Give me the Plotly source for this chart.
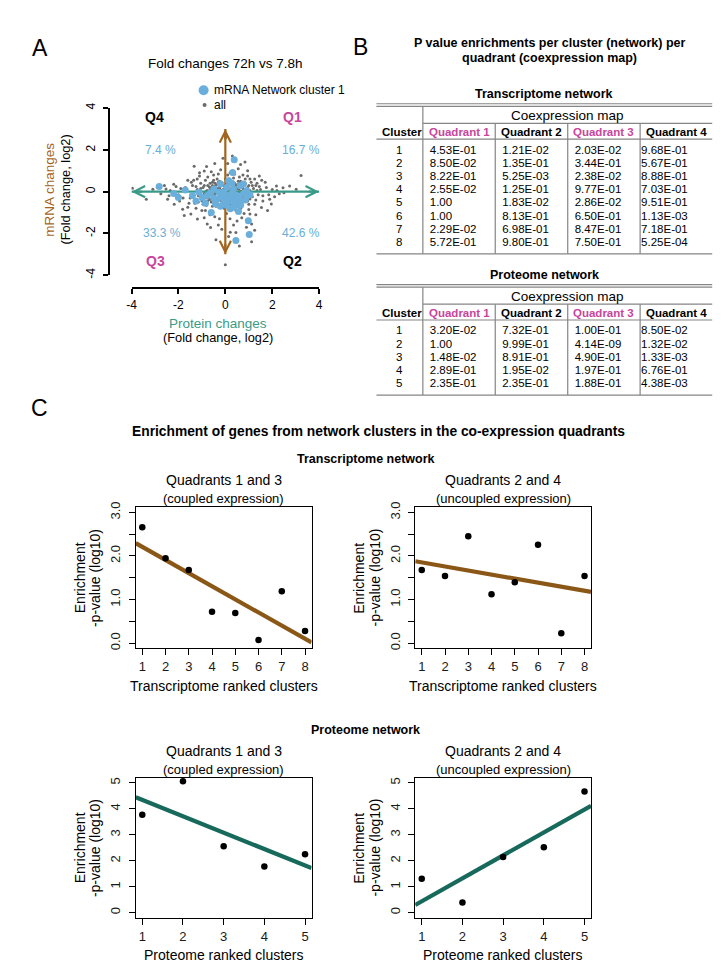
import plotly.graph_objects as go
import numpy as np

W, H = 725, 969
FONT = "Liberation Sans, Arial, Helvetica, sans-serif"
BROWN_A = '#a3651e'
TEAL_A = '#3a9a88'
BLUE = '#6aaedb'
GREY = '#6a6a6a'
MAGENTA = '#c8459c'
PCT_BLUE = '#6aaed6'
BROWN_C = '#8a5716'
TEAL_C = '#17695b'
LINE_GREY = '#858585'

# ---------------- Panel A data (log2 fold changes) ----------------
all_xy = [
    (-3.96, 0.16), (-3.37, -0.36), (-3.09, 0.11), (-2.53, 0.13), (-2.46, -0.36), (-2.18, -0.60),
    (-1.82, -0.84), (-1.75, -1.14), (-1.47, -1.07), (-1.33, 1.22), (-1.19, -1.31), (-0.90, 0.99),
    (-0.77, -1.55), (-0.63, -1.71), (0.0, -3.5), (0.02, 2.6), (0.14, -2.15), (0.21, -1.94),
    (0.84, 1.42), (1.05, -1.07), (1.12, -1.55), (1.12, -2.40), (1.25, -1.85), (1.54, -0.76),
    (1.89, -0.36), (1.96, -0.59), (2.18, 0.27), (2.46, 0.19), (2.74, 0.27), (3.02, 0.11),
    (3.23, 0.77), (2.3, -0.1), (1.7, 0.45), (1.45, 0.75), (-0.45, 1.35), (0.55, 1.1),
    (-2.75, -0.1), (-2.9, 0.2), (-2.2, 0.35), (-1.6, 0.55), (-0.25, -1.3), (0.35, -1.6),
    (0.7, -1.25), (0.95, 1.0), (-0.6, 0.95), (-1.1, 0.75), (1.3, 0.3), (1.6, -0.2),
    (2.0, 0.1), (2.5, -0.05), (-2.0, -0.15), (-2.35, 0.05), (-1.9, 0.15), (-0.15, -1.8),
    (0.45, -1.95), (-0.4, -2.3), (0.6, -2.6), (1.05, 0.6), (-1.3, -0.55), (-1.5, -0.3),
    (-1.7, 0.2), (-1.4, 0.3), (1.8, -0.9), (0.9, -1.7), (-0.9, -1.25), (0.1, 1.35),
    (0.3, 1.7), (-0.2, 1.05), (0.4, 0.85), (-0.75, 0.7),
    (-1.2, 0.1), (-1.15, -0.2), (-1.05, 0.4), (-1.0, -0.45), (-0.95, 0.2), (-0.9, -0.1),
    (-0.85, 0.55), (-0.8, -0.65), (-0.75, 0.3), (-0.7, -0.3), (-0.65, 0.1), (-0.6, -0.5),
    (-0.55, 0.45), (-0.5, -0.15), (-0.45, 0.25), (-0.4, -0.7), (-0.35, 0.6), (-0.3, -0.4),
    (-0.25, 0.15), (-0.2, -0.2), (-0.15, 0.45), (-0.1, -0.55), (-0.05, 0.3), (0.0, -0.1),
    (0.05, 0.55), (0.1, -0.35), (0.15, 0.2), (0.2, -0.6), (0.25, 0.4), (0.3, -0.15),
    (0.35, 0.65), (0.4, -0.45), (0.45, 0.1), (0.5, -0.7), (0.55, 0.35), (0.6, -0.25),
    (0.65, 0.5), (0.7, -0.55), (0.75, 0.15), (0.8, -0.1), (0.85, 0.4), (0.9, -0.35),
    (0.95, 0.2), (1.0, -0.6), (1.05, 0.05), (1.1, 0.45), (1.15, -0.25), (1.2, 0.15),
    (1.3, -0.4), (1.35, 0.05), (1.4, -0.15), (1.45, 0.25), (-1.25, -0.8), (-1.1, 0.9),
    (-0.85, -0.9), (-0.55, -0.95), (-0.3, 0.85), (-0.05, -0.8), (0.2, 0.9), (0.45, -0.9),
    (0.75, 0.8), (1.0, -0.85), (1.25, 0.6), (-1.35, 0.55),
    (-0.78, 0.05), (-0.72, -0.12), (-0.68, 0.22), (-0.62, -0.05), (-0.58, 0.15), (-0.52, -0.25),
    (-0.48, 0.05), (-0.42, -0.1), (-0.38, 0.32), (-0.33, 0.0), (-0.28, -0.25), (-0.24, 0.2),
    (-0.18, 0.05), (-0.14, -0.15), (-0.1, 0.1), (-0.06, -0.3), (-0.02, 0.18), (0.03, -0.05),
    (0.07, 0.28), (0.12, -0.18), (0.16, 0.05), (0.22, -0.3), (0.26, 0.15), (0.31, -0.05),
    (0.36, 0.25), (0.41, -0.2), (0.46, 0.32), (0.52, -0.08), (0.57, 0.12), (0.62, -0.35),
    (0.67, 0.02), (0.72, 0.25), (0.78, -0.18), (-0.66, -0.38), (-0.44, 0.4), (-0.2, -0.42),
    (0.08, 0.42), (0.34, -0.38), (0.6, 0.38), (-0.9, 0.3), (-0.98, -0.2), (0.88, 0.1),
    (0.96, -0.15), (-0.55, 0.3), (0.5, 0.2), (0.25, -0.5), (-0.3, 0.45), (0.0, 0.6),
    (-1.8, -0.3), (-1.65, 0.1), (-1.55, -0.55), (-1.45, 0.45), (-1.35, -0.15), (-1.25, 0.25),
    (-1.15, -0.5), (-1.05, 0.15), (-0.95, -0.6), (-0.85, 0.0), (-0.75, -0.45), (-0.65, 0.4),
    (-0.55, -0.7), (-0.45, 0.05), (-0.35, -0.55), (-0.25, 0.5), (-0.15, -0.65), (-0.05, 0.1),
    (0.05, -0.5), (0.15, 0.6), (0.25, -0.75), (0.35, 0.05), (0.45, -0.6), (0.55, 0.5),
    (0.65, -0.8), (0.75, -0.3), (0.85, 0.6), (0.95, -0.45), (1.05, -0.35), (1.15, 0.3),
    (1.25, -0.6), (1.35, 0.4), (1.5, 0.1), (1.6, -0.45), (1.75, 0.2), (1.85, -0.15),
    (2.1, -0.25), (2.2, 0.05), (-2.1, 0.25), (-2.4, -0.2), (-2.6, 0.3), (-1.95, -0.45),
    (-0.8, 1.2), (0.65, 1.3), (-0.1, 1.6), (0.2, -1.3), (-0.45, -1.2), (0.8, -1.05),
    (-1.0, -0.9), (1.3, -1.1), (0.05, -1.05), (-0.65, -1.1), (0.5, -1.4), (-0.3, -1.6),
    (1.55, 0.55), (-1.6, -0.75), (0.95, 0.75), (-0.5, 0.8), (0.1, 0.8), (0.6, 0.7),
    (-1.2, 0.6), (-0.6, 0.2), (-0.4, -0.35), (-0.2, 0.3), (0.0, -0.25), (0.2, 0.1),
    (0.4, 0.4), (0.6, 0.0), (0.8, 0.3), (-0.8, -0.3), (-0.35, 0.15), (0.15, -0.1),
    (0.45, -0.15), (0.7, -0.1), (-0.15, -0.05), (0.05, 0.35), (0.3, 0.3), (-0.5, 0.55),
    (0.55, -0.5), (-0.7, -0.15), (1.0, 0.3),
]
cluster1_xy = [
    # Q4
    (-2.82, 0.25), (-1.71, 0.08), (-0.49, 0.13), (-0.21, 0.36),
    # Q1
    (0.38, 1.52), (0.31, 0.92), (0.07, 0.21), (0.14, 0.52), (0.35, 0.13), (0.63, 0.28),
    (0.77, 0.36), (0.91, 0.05), (0.28, 0.4),
    # Q2
    (0.56, -0.95), (0.98, -1.39), (1.02, -2.05), (0.45, -2.34), (0.21, -0.82), (0.07, -0.66),
    (0.21, -0.35), (0.42, -0.58), (0.49, -0.19), (0.63, -0.43), (0.77, -0.11), (0.1, -0.2),
    (0.4, -0.35), (1.05, -0.15), (0.3, -0.05), (0.55, -0.3), (0.15, -0.45), (0.85, -0.4),
    (0.35, -0.75), (0.65, -0.65), (0.05, -0.3), (0.25, -0.15), (0.9, -0.25),
    # Q3
    (-2.2, -0.09), (-2.0, -0.28), (-0.6, -1.0), (-1.4, -0.19), (-1.12, -0.03), (-0.98, -0.28),
    (-0.77, -0.19), (-0.63, -0.05), (-0.42, -0.58), (-0.35, -0.35), (-0.28, -0.03), (-0.07, -0.03),
    (-0.07, -0.51), (-0.21, -0.7), (-1.25, -0.45), (-0.5, -0.3), (-0.15, -0.25), (-0.85, -0.55),
]
all_x = [p[0] for p in all_xy]
all_y = [p[1] for p in all_xy]
c1_x = [p[0] for p in cluster1_xy]
c1_y = [p[1] for p in cluster1_xy]
quad_names = ['Q1', 'Q2', 'Q3', 'Q4']
quad_pct = ['16.7 %', '42.6 %', '33.3 %', '7.4 %']

# ---------------- Panel B data ----------------
quad_headers = ['Quadrant 1', 'Quadrant 2', 'Quadrant 3', 'Quadrant 4']
trans_clusters = ['1', '2', '3', '4', '5', '6', '7', '8']
trans_q1 = ['4.53E-01', '8.50E-02', '8.22E-01', '2.55E-02', '1.00', '1.00', '2.29E-02', '5.72E-01']
trans_q2 = ['1.21E-02', '1.35E-01', '5.25E-03', '1.25E-01', '1.83E-02', '8.13E-01', '6.98E-01', '9.80E-01']
trans_q3 = ['2.03E-02', '3.44E-01', '2.38E-02', '9.77E-01', '2.86E-02', '6.50E-01', '8.47E-01', '7.50E-01']
trans_q4 = ['9.68E-01', '5.67E-01', '8.88E-01', '7.03E-01', '9.51E-01', '1.13E-03', '7.18E-01', '5.25E-04']
prot_clusters = ['1', '2', '3', '4', '5']
prot_q1 = ['3.20E-02', '1.00', '1.48E-02', '2.89E-01', '2.35E-01']
prot_q2 = ['7.32E-01', '9.99E-01', '8.91E-01', '1.95E-02', '2.35E-01']
prot_q3 = ['1.00E-01', '4.14E-09', '4.90E-01', '1.97E-01', '1.88E-01']
prot_q4 = ['8.50E-02', '1.32E-02', '1.33E-03', '6.76E-01', '4.38E-03']

# ---------------- Panel C data (-log10 p) ----------------
trans_rank = [1, 2, 3, 4, 5, 6, 7, 8]
trans_coupled = [2.66, 1.95, 1.68, 0.72, 0.69, 0.07, 1.19, 0.28]
trans_uncoupled = [1.68, 1.54, 2.45, 1.12, 1.40, 2.26, 0.23, 1.54]
prot_rank = [1, 2, 3, 4, 5]
prot_coupled = [3.77, 5.06, 2.56, 1.78, 2.25]
prot_uncoupled = [1.31, 0.39, 2.15, 2.52, 4.67]


def dx(a, b):
    return [a / W, b / W]


def dy(top, bottom):
    return [1 - bottom / H, 1 - top / H]


fig = go.Figure()
annots = []
shapes = []


def txt(x, y, s, size=13, color='black', bold=False, xanchor='center', angle=0):
    annots.append(dict(x=x, y=y, xref='x6', yref='y6', text=('<b>%s</b>' % s) if bold else s,
                       showarrow=False, xanchor=xanchor, yanchor='middle', textangle=angle,
                       font=dict(family=FONT, size=size, color=color)))


# ---------------- Panel A ----------------
fig.add_trace(go.Scatter(x=all_x, y=all_y, mode='markers', xaxis='x', yaxis='y',
                         marker=dict(size=3, color=GREY), hoverinfo='skip', showlegend=False))
arrow_v = 3.0
fig.add_trace(go.Scatter(x=[0, 0], y=[-arrow_v, arrow_v], mode='lines', xaxis='x', yaxis='y',
                         line=dict(color=BROWN_A, width=2.2), hoverinfo='skip', showlegend=False))
fig.add_trace(go.Scatter(x=[-4, 4], y=[0, 0], mode='lines', xaxis='x', yaxis='y',
                         line=dict(color=TEAL_A, width=2.2), hoverinfo='skip', showlegend=False))
fig.add_trace(go.Scatter(x=c1_x, y=c1_y, mode='markers', xaxis='x', yaxis='y',
                         marker=dict(size=7, color=BLUE), hoverinfo='skip', showlegend=False))
for (hx, hy, ax, ay, col) in [(0, arrow_v, 0, 12, BROWN_A), (0, -arrow_v, 0, -12, BROWN_A),
                              (-4, 0, 12, 0, TEAL_A), (4, 0, -12, 0, TEAL_A)]:
    annots.append(dict(x=hx, y=hy, xref='x', yref='y', ax=ax, ay=ay, text='', showarrow=True,
                       arrowhead=5, arrowsize=1.0, arrowwidth=2.2, arrowcolor=col))

txt(27, 34, 'A', size=23)
txt(352, 33, 'B', size=23)
txt(27, 398, 'C', size=23)
txt(215, 50, 'Fold changes 72h vs 7.8h', size=13.5)
# legend
fig.add_trace(go.Scatter(x=[193], y=[77], mode='markers', xaxis='x6', yaxis='y6',
                         marker=dict(size=10, color=BLUE), hoverinfo='skip', showlegend=False))
fig.add_trace(go.Scatter(x=[194], y=[92], mode='markers', xaxis='x6', yaxis='y6',
                         marker=dict(size=4, color=GREY), hoverinfo='skip', showlegend=False))
txt(202, 77, 'mRNA Network cluster 1', size=12, xanchor='left')
txt(202, 92, 'all', size=12, xanchor='left')
# quadrant labels
q_pos = {'Q1': (283, 104, MAGENTA), 'Q2': (283, 250, 'black'), 'Q3': (144, 250, MAGENTA), 'Q4': (143, 104, 'black')}
p_pos = [(292, 137), (292, 221), (151, 221), (149, 137)]
for i, q in enumerate(quad_names):
    qx, qy, qc = q_pos[q]
    txt(qx, qy, q, size=14, color=qc, bold=True)
    txt(p_pos[i][0], p_pos[i][1], quad_pct[i], size=12, color=PCT_BLUE)
txt(37, 178, 'mRNA changes', size=13.5, color=BROWN_A, angle=-90)
txt(53, 177, '(Fold change, log2)', size=12.8, angle=-90)
txt(208, 313, 'Protein changes', size=13.5, color=TEAL_A)
txt(208, 327, '(Fold change, log2)', size=12.8)

# ---------------- Panel B tables ----------------
txt(544, 29, 'P value enrichments per cluster (network) per', size=12.5, bold=True)
txt(543, 44, 'quadrant (coexpression map)', size=12.5, bold=True)

col_bounds = [368, 415, 488.3, 561.7, 635, 708]
val_x = [424, 497.3, 570.7, 638]
ROW = 13.34


def add_table(title, top, clusters, cols):
    n = len(clusters)
    row1 = top + 44.85
    ys = [row1 + i * ROW for i in range(n)]
    bottom = ys[-1] + 10.8
    txt(538, top - 12, title, size=12.5, bold=True)
    for yy in (top - 2.6, top):
        shapes.append(dict(type='line', xref='x6', yref='y6', x0=col_bounds[0], x1=col_bounds[-1],
                           y0=yy, y1=yy, line=dict(color=LINE_GREY, width=1.2)))
    txt((col_bounds[1] + col_bounds[-1]) / 2, top + 9.2, 'Coexpression map', size=13.5)
    shapes.append(dict(type='line', xref='x6', yref='y6', x0=col_bounds[1], x1=col_bounds[-1],
                       y0=top + 17.2, y1=top + 17.2, line=dict(color=LINE_GREY, width=1.2)))
    txt(393.5, top + 25.8, 'Cluster', size=11.5, bold=True)
    for j, hname in enumerate(quad_headers):
        cx = (col_bounds[j + 1] + col_bounds[j + 2]) / 2
        txt(cx, top + 25.8, hname, size=11.5, bold=True, color=MAGENTA if j in (0, 2) else 'black')
    shapes.append(dict(type='line', xref='x6', yref='y6', x0=col_bounds[0], x1=col_bounds[-1],
                       y0=top + 33.2, y1=top + 33.2, line=dict(color=LINE_GREY, width=1.2)))
    shapes.append(dict(type='line', xref='x6', yref='y6', x0=col_bounds[0], x1=col_bounds[-1],
                       y0=bottom, y1=bottom, line=dict(color=LINE_GREY, width=1.2)))
    shapes.append(dict(type='line', xref='x6', yref='y6', x0=col_bounds[1], x1=col_bounds[1],
                       y0=top, y1=bottom, line=dict(color=LINE_GREY, width=1.2)))
    for xb in col_bounds[2:-1]:
        shapes.append(dict(type='line', xref='x6', yref='y6', x0=xb, x1=xb,
                           y0=top + 17.2, y1=bottom, line=dict(color=LINE_GREY, width=1.2)))
    fig.add_trace(go.Scatter(x=[391] * n, y=ys, text=clusters, mode='text', textposition='middle center',
                             xaxis='x6', yaxis='y6', textfont=dict(family=FONT, size=11.5, color='black'),
                             hoverinfo='skip', showlegend=False))
    for j, col in enumerate(cols):
        fig.add_trace(go.Scatter(x=[val_x[j] - 2] * n, y=ys, text=col, mode='text', textposition='middle right',
                                 xaxis='x6', yaxis='y6', textfont=dict(family=FONT, size=11.5, color='black'),
                                 hoverinfo='skip', showlegend=False))


add_table('Transcriptome network', 93.3, trans_clusters, [trans_q1, trans_q2, trans_q3, trans_q4])
add_table('Proteome network', 276, prot_clusters, [prot_q1, prot_q2, prot_q3, prot_q4])

# ---------------- Panel C ----------------
txt(370, 422, 'Enrichment of genes from network clusters in the co-expression quadrants', size=13.8, bold=True)
txt(357, 450, 'Transcriptome network', size=12.5, bold=True)
txt(357, 723, 'Proteome network', size=12.5, bold=True)

LBOX = (124.3, 302.3)
RBOX = (407.3, 585.3)
TOPROW = (498.3, 641)
BOTROW = (771.7, 913.3)

panels = [
    ('x2', 'y2', LBOX, TOPROW, trans_rank, trans_coupled, BROWN_C, [0.72, 8.28], [-0.12, 3.12]),
    ('x3', 'y3', RBOX, TOPROW, trans_rank, trans_uncoupled, BROWN_C, [0.72, 8.28], [-0.12, 3.12]),
    ('x4', 'y4', LBOX, BOTROW, prot_rank, prot_coupled, TEAL_C, [0.84, 5.16], [-0.2, 5.2]),
    ('x5', 'y5', RBOX, BOTROW, prot_rank, prot_uncoupled, TEAL_C, [0.84, 5.16], [-0.2, 5.2]),
]
for xa, ya, bx, by, xs, ys, col, xr, yr in panels:
    slope, icpt = np.polyfit(xs, ys, 1)
    fig.add_trace(go.Scatter(x=xr, y=[icpt + slope * xr[0], icpt + slope * xr[1]], mode='lines',
                             xaxis=xa, yaxis=ya, line=dict(color=col, width=4.2),
                             hoverinfo='skip', showlegend=False))
    fig.add_trace(go.Scatter(x=xs, y=ys, mode='markers', xaxis=xa, yaxis=ya,
                             marker=dict(size=6.5, color='black'), hoverinfo='skip', showlegend=False))

sub_titles = [
    (LBOX, TOPROW, 'Quadrants 1 and 3', '(coupled expression)', 'Transcriptome ranked clusters'),
    (RBOX, TOPROW, 'Quadrants 2 and 4', '(uncoupled expression)', 'Transcriptome ranked clusters'),
    (LBOX, BOTROW, 'Quadrants 1 and 3', '(coupled expression)', 'Proteome ranked clusters'),
    (RBOX, BOTROW, 'Quadrants 2 and 4', '(uncoupled expression)', 'Proteome ranked clusters'),
]
for bx, by, t1, t2, xt in sub_titles:
    cx = (bx[0] + bx[1]) / 2
    cy = (by[0] + by[1]) / 2
    txt(cx, by[0] - 27, t1, size=14)
    txt(cx, by[0] - 8.5, t2, size=13)
    txt(cx, by[1] + 38, xt, size=14)
    txt(bx[0] - 57, cy, 'Enrichment', size=14, angle=-90)
    txt(bx[0] - 41, cy, '-p-value (log10)', size=14, angle=-90)

layout = dict(
    width=W, height=H, margin=dict(l=0, r=0, t=0, b=0),
    paper_bgcolor='white', plot_bgcolor='rgba(0,0,0,0)', showlegend=False,
    font=dict(family=FONT, color='black'),
    annotations=annots, shapes=shapes,
)

axA = dict(showline=True, linecolor='black', linewidth=2, ticks='outside', ticklen=5, tickwidth=2,
           tickcolor='black', showgrid=False, zeroline=False, fixedrange=True,
           tickvals=[-4, -2, 0, 2, 4], ticktext=['-4', '-2', '0', '2', '4'],
           tickfont=dict(family=FONT, size=12, color='black'))
layout['xaxis'] = dict(axA, domain=dx(120, 310), range=[-4, 4], anchor='free', position=1 - 277 / H)
layout['yaxis'] = dict(axA, domain=dy(95, 264), range=[-4, 4], anchor='free', position=97 / W,
                       tickangle=-90, ticklabelstandoff=3)


def c_axis(dom, rng, vals, texts, anchor, angle=0, standoff=0):
    return dict(domain=dom, range=rng, anchor=anchor, showline=True, mirror=True, linecolor='black',
                linewidth=1.2, ticks='outside', ticklen=6, tickwidth=1, tickcolor='black',
                tickvals=vals, ticktext=texts, tickangle=angle, ticklabelstandoff=standoff,
                tickfont=dict(family=FONT, size=13, color='#1a1a1a'),
                showgrid=False, zeroline=False, fixedrange=True)


yt_top = [0, 0.5, 1, 1.5, 2, 2.5, 3]
yt_top_txt = ['0.0', '', '1.0', '', '2.0', '', '3.0']
yt_bot = [0, 1, 2, 3, 4, 5]
for k, (xa, ya, bx, by, xs, ys, col, xr, yr) in enumerate(panels):
    n = xa[1:]
    if k < 2:
        yv, ytx = yt_top, yt_top_txt
    else:
        yv, ytx = yt_bot, [str(v) for v in yt_bot]
    layout['xaxis' + n] = c_axis(dx(*bx), xr, xs, [str(v) for v in xs], 'y' + n)
    layout['yaxis' + n] = c_axis(dy(*by), yr, yv, ytx, 'x' + n, angle=-90, standoff=3)

layout['xaxis6'] = dict(domain=[0, 1], range=[0, W], visible=False, fixedrange=True, anchor='y6')
layout['yaxis6'] = dict(domain=[0, 1], range=[H, 0], visible=False, fixedrange=True, anchor='x6')

fig.update_layout(**layout)
fig.write_html('out.html')
